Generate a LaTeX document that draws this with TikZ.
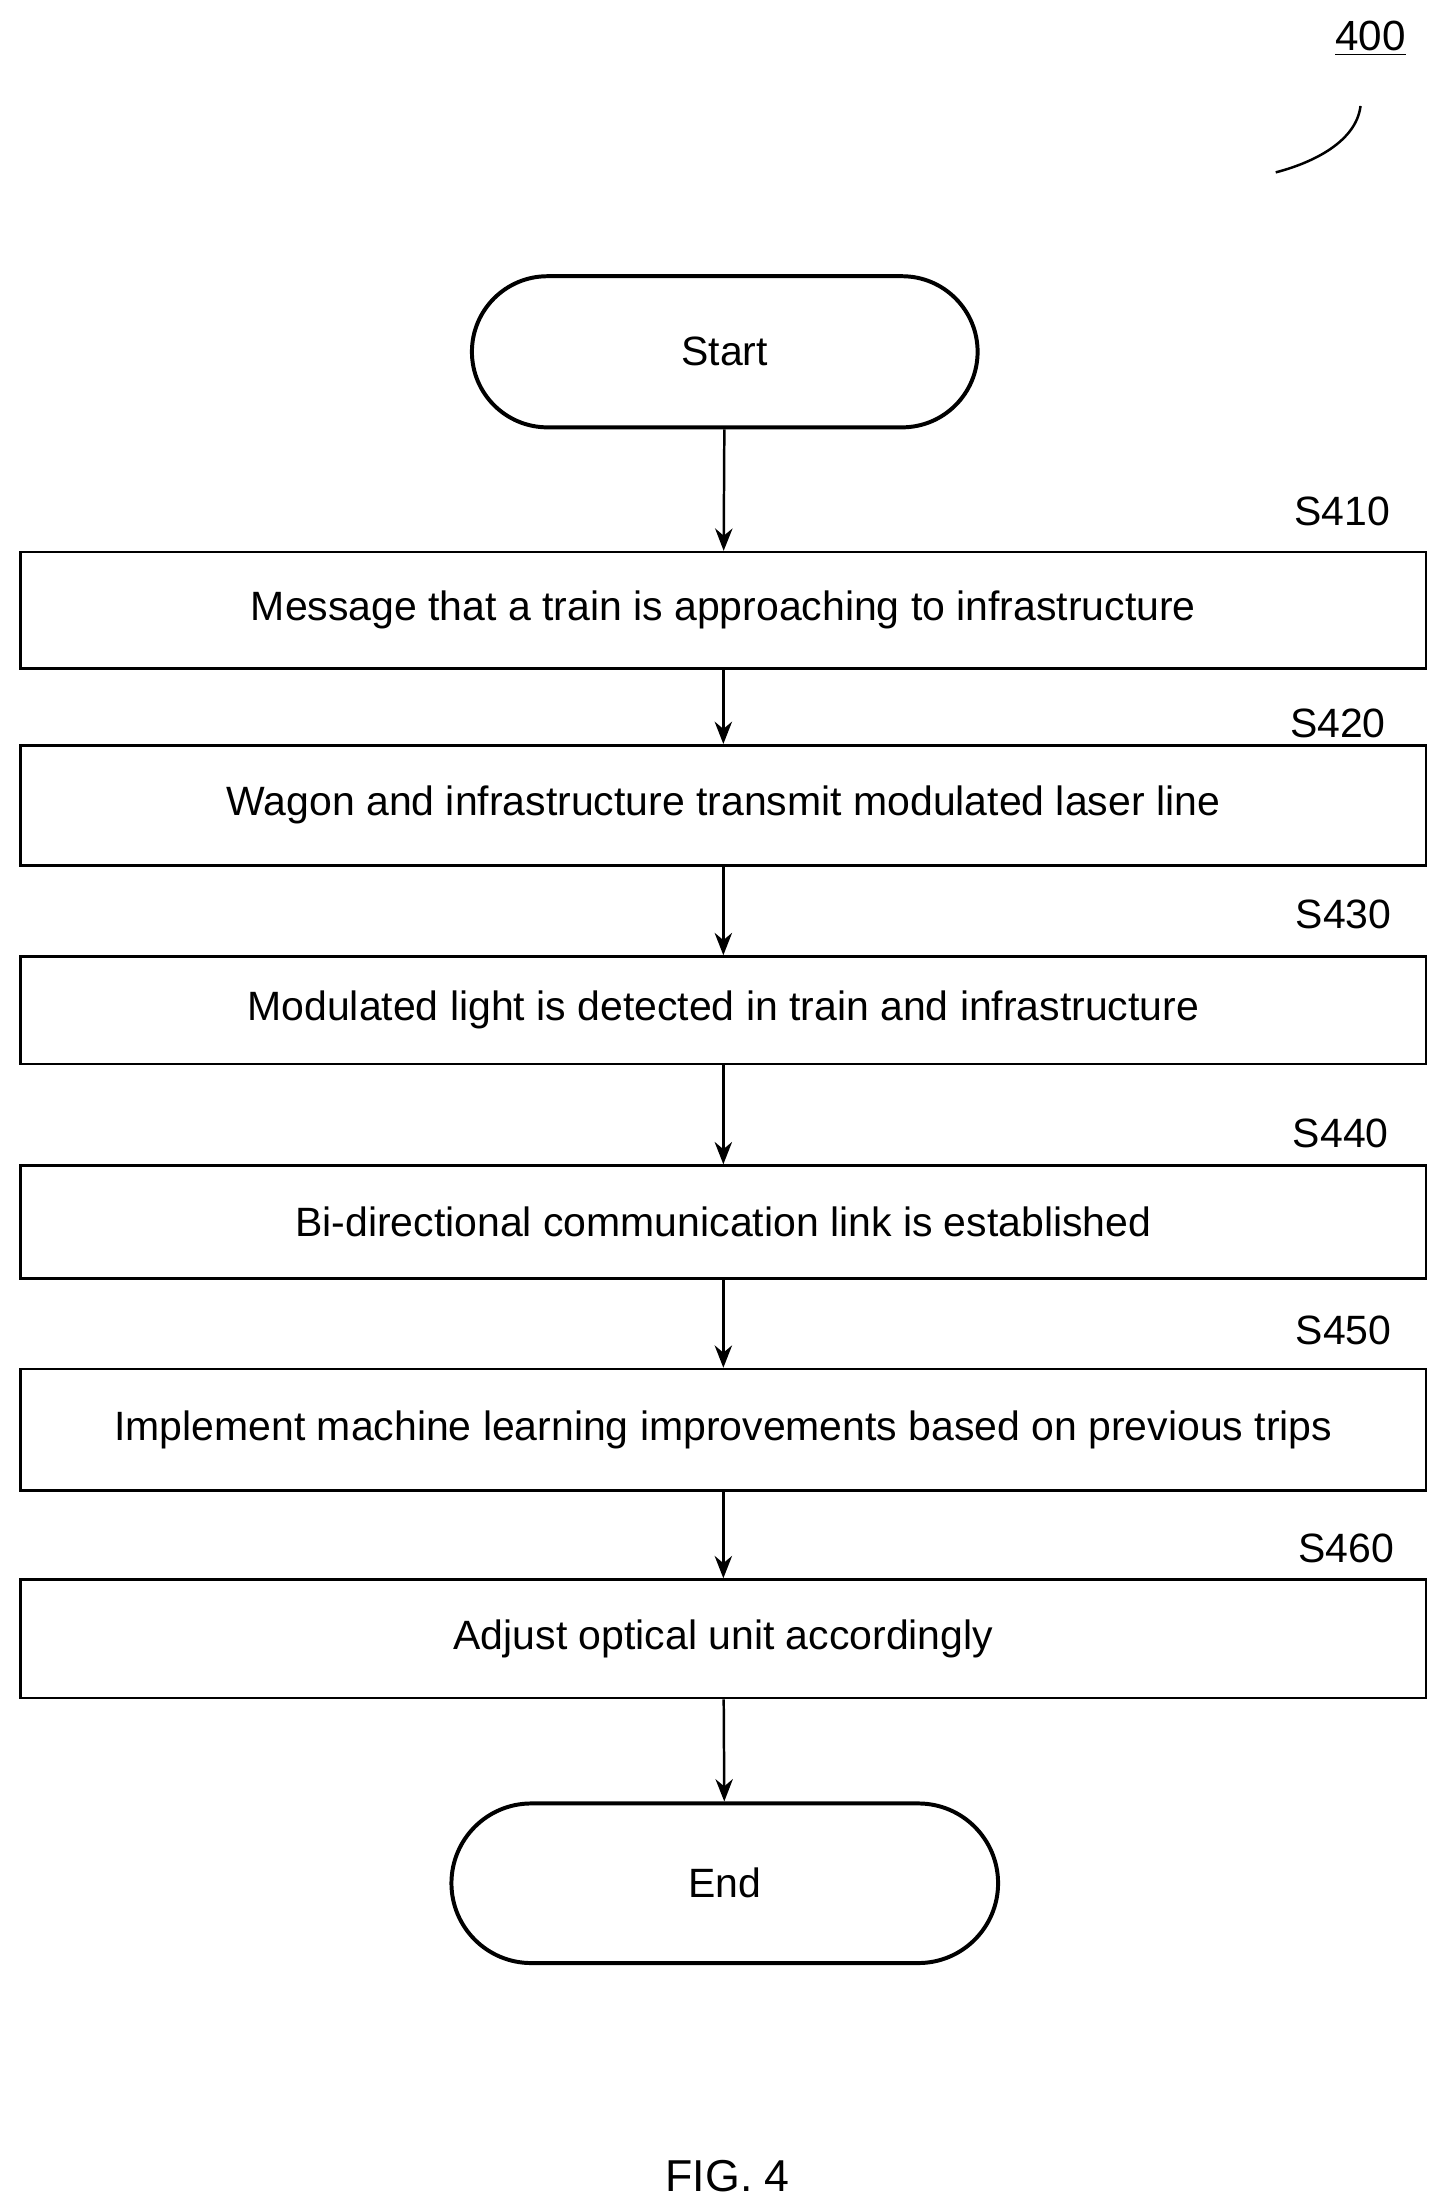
\documentclass[tikz,border=0pt]{standalone}
\usepackage{fontspec}
\setmainfont{Liberation Sans}
\usetikzlibrary{shapes.misc}
\usetikzlibrary{arrows.meta}

\begin{document}
\begin{tikzpicture}[x=0.02cm, y=-0.02cm,
    font=\fontsize{16.5}{20}\selectfont,
    stepbox/.style={draw, line width=1pt, minimum width=19.9cm, minimum height=1.65cm, inner sep=0pt},
    term/.style={draw, line width=1.6pt, rounded rectangle, inner sep=0pt},
    flow/.style={-{Stealth[length=9pt, width=7pt]}, line width=1pt}]
    \useasboundingbox (0,0) rectangle (1024,1565);
    % reference label
    \node[font=\fontsize{17}{20}\selectfont] (ref) at (970,27) {\underline{400}};
    \draw[line width=1pt] (963,75) .. controls (960,100) and (930,115) .. (903,122);
    % terminals
    \node[term, minimum width=7.16cm, minimum height=2.14cm] (start) at (513,249) {Start};
    \node[term, minimum width=7.74cm, minimum height=2.26cm] (end) at (513,1333) {End};
    % steps
    \node[stepbox] (s410) at (512,432) {Message that a train is approaching to infrastructure};
    \node[stepbox, minimum height=1.7cm] (s420) at (512,570) {Wagon and infrastructure transmit modulated laser line};
    \node[stepbox, minimum height=1.52cm] (s430) at (512,715) {Modulated light is detected in train and infrastructure};
    \node[stepbox, minimum height=1.6cm] (s440) at (512,865) {Bi-directional communication link is established};
    \node[stepbox, minimum height=1.72cm] (s450) at (512,1012) {Implement machine learning improvements based on previous trips};
    \node[stepbox, minimum height=1.68cm] (s460) at (512,1160) {Adjust optical unit accordingly};
    % step labels
    \node (l410) at (950,362) {S410};
    \node (l420) at (947,512) {S420};
    \node (l430) at (951,647) {S430};
    \node (l440) at (949,802) {S440};
    \node (l450) at (951,942) {S450};
    \node (l460) at (953,1096) {S460};
    % arrows
    \draw[flow] (start) -- (s410);
    \draw[flow] (s410) -- (s420);
    \draw[flow] (s420) -- (s430);
    \draw[flow] (s430) -- (s440);
    \draw[flow] (s440) -- (s450);
    \draw[flow] (s450) -- (s460);
    \draw[flow] (s460) -- (end);
    \node[font=\fontsize{18}{22}\selectfont] (fig) at (515,1540) {FIG. 4};
\end{tikzpicture}
\end{document}
